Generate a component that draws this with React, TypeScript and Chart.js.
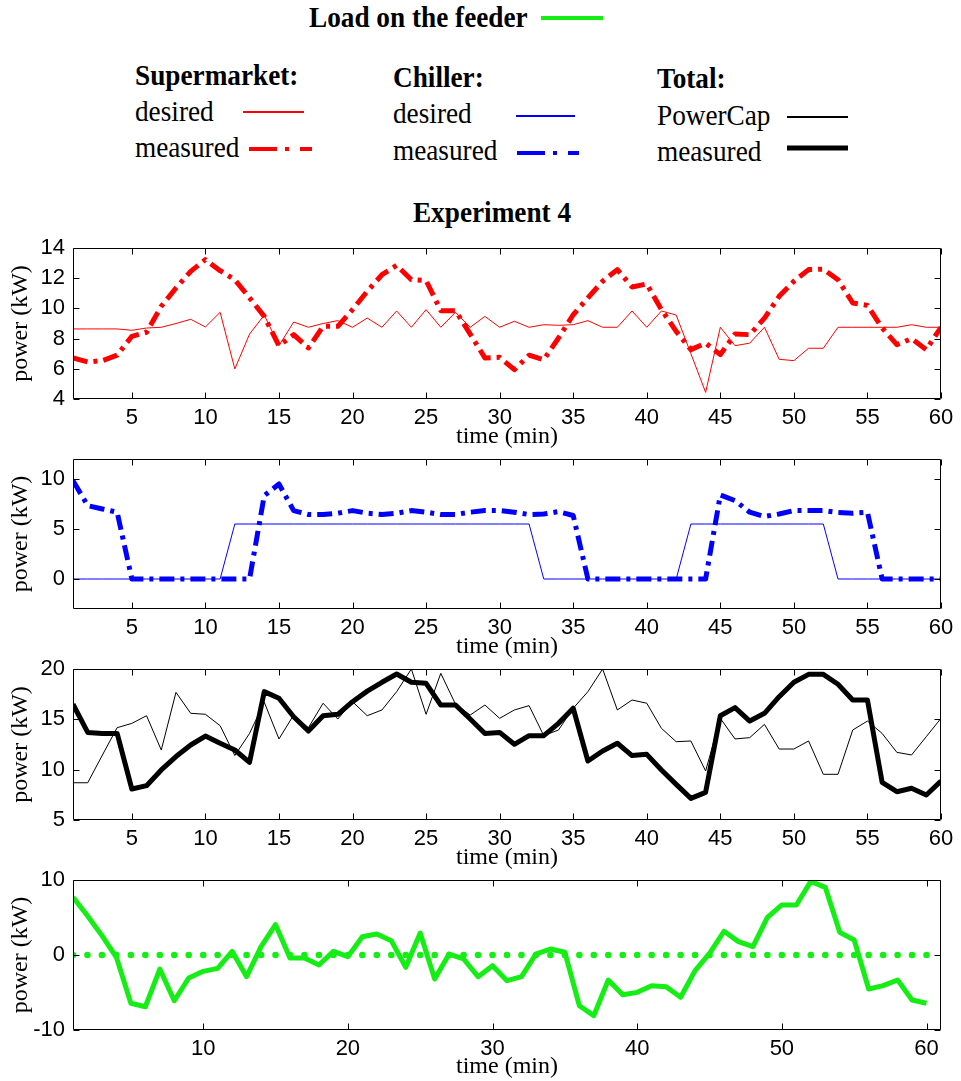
import React, { useEffect, useRef } from 'react';
import { Chart, registerables } from 'chart.js';

Chart.register(...registerables);

// ---------- data ----------
const minutes = [
  1, 2, 3, 4, 5, 6, 7, 8, 9, 10, 11, 12, 13, 14, 15, 16, 17, 18, 19, 20,
  21, 22, 23, 24, 25, 26, 27, 28, 29, 30, 31, 32, 33, 34, 35, 36, 37, 38, 39, 40,
  41, 42, 43, 44, 45, 46, 47, 48, 49, 50, 51, 52, 53, 54, 55, 56, 57, 58, 59, 60,
];

const supermarketDesired = [
  8.64, 8.64, 8.64, 8.64, 8.55, 8.7, 8.75, 9.0, 9.28, 8.77,
  9.74, 5.99, 8.3, 9.56, 7.53, 9.1, 8.75, 9.0, 9.19, 8.75,
  9.36, 8.75, 9.83, 8.75, 9.92, 8.75, 9.74, 8.75, 9.47, 8.75,
  9.15, 8.75, 8.92, 8.88, 8.92, 9.19, 8.75, 8.75, 9.83, 8.75,
  9.83, 9.56, 7.0, 4.44, 8.75, 7.53, 7.7, 8.75, 6.63, 6.54,
  7.36, 7.36, 8.75, 8.75, 8.75, 8.75, 8.75, 8.92, 8.75, 8.75,
];
const supermarketMeasured = [
  6.72, 6.45, 6.54, 6.9, 8.15, 8.42, 10.14, 11.35, 12.45, 13.23,
  12.5, 11.9, 10.7, 9.47, 7.53, 8.26, 7.38, 8.81, 8.81, 9.92,
  11.13, 12.23, 12.85, 11.9, 11.84, 9.85, 9.85, 8.3, 6.72, 6.76,
  5.94, 6.9, 6.6, 8.04, 9.58, 10.7, 11.8, 12.57, 11.42, 11.62,
  9.92, 8.48, 7.27, 7.7, 6.94, 8.3, 8.26, 9.36, 10.8, 11.8,
  12.57, 12.6, 11.9, 10.36, 10.2, 8.7, 7.6, 8.0, 7.27, 8.75,
];

const chillerDesired = [
  0, 0, 0, 0, 0, 0, 0, 0, 0, 0,
  0, 5.5, 5.5, 5.5, 5.5, 5.5, 5.5, 5.5, 5.5, 5.5,
  5.5, 5.5, 5.5, 5.5, 5.5, 5.5, 5.5, 5.5, 5.5, 5.5,
  5.5, 5.5, 0, 0, 0, 0, 0, 0, 0, 0,
  0, 0, 5.5, 5.5, 5.5, 5.5, 5.5, 5.5, 5.5, 5.5,
  5.5, 5.5, 0, 0, 0, 0, 0, 0, 0, 0,
];
const chillerMeasured = [
  9.83, 7.34, 7.0, 6.68, 0, 0, 0, 0, 0, 0,
  0, 0, 0, 8.34, 9.5, 6.84, 6.45, 6.45, 6.58, 6.84,
  6.58, 6.45, 6.58, 6.84, 6.68, 6.45, 6.45, 6.68, 6.84, 6.84,
  6.68, 6.45, 6.5, 6.74, 6.35, 0, 0, 0, 0, 0,
  0, 0, 0, 0, 8.4, 7.84, 6.68, 6.25, 6.5, 6.84,
  6.84, 6.84, 6.64, 6.58, 6.68, 0, 0, 0, 0, 0,
];

const totalPowerCap = [
  8.7, 8.7, 11.46, 14.17, 14.6, 15.36, 11.95, 17.68, 15.6, 15.5,
  14.37, 11.4, 13.6, 16.7, 13.05, 15.43, 14.17, 16.6, 15.03, 16.75,
  15.36, 15.93, 17.75, 20.0, 15.5, 19.57, 16.5, 15.43, 16.42, 15.1,
  15.93, 16.36, 13.38, 13.94, 16.1, 17.75, 20.0, 15.93, 16.92, 16.6,
  14.1, 12.78, 12.85, 9.87, 15.1, 13.05, 13.18, 14.5, 12.05, 12.05,
  12.85, 9.54, 9.54, 13.94, 14.83, 13.6, 11.72, 11.46, 13.28, 15.1,
];
const totalMeasured = [
  16.5, 13.7, 13.6, 13.6, 8.08, 8.41, 9.97, 11.3, 12.45, 13.34,
  12.62, 11.95, 10.73, 17.75, 17.09, 15.26, 13.84, 15.36, 15.5, 16.75,
  17.8, 18.68, 19.5, 18.68, 18.58, 16.42, 16.42, 15.03, 13.6, 13.7,
  12.52, 13.38, 13.38, 14.6, 16.1, 10.86, 11.85, 12.62, 11.4, 11.52,
  9.97, 8.54, 7.15, 7.75, 15.36, 16.16, 14.83, 15.6, 17.25, 18.68,
  19.47, 19.47, 18.48, 16.92, 16.92, 8.74, 7.81, 8.15, 7.48, 8.87,
];

const feederLoad = [
  7.7, 5.24, 2.58, -0.3, -6.44, -6.9, -1.87, -6.1, -3.07, -2.18,
  -1.78, 0.49, -2.89, 1.11, 4.04, -0.4, -0.4, -1.33, 0.49, -0.22,
  2.44, 2.8, 1.91, -1.64, 2.93, -3.2, 0.13, -0.53, -2.89, -1.42,
  -3.42, -2.89, 0.13, 0.8, 0.36, -6.76, -8.09, -3.33, -5.29, -4.98,
  -4.09, -4.22, -5.64, -2.09, 0.22, 3.16, 1.78, 1.11, 5.02, 6.67,
  6.67, 9.82, 9.02, 3.02, 2.0, -4.53, -4.09, -3.33, -6.0, -6.44,
];
const feederZero = [
  0, 0, 0, 0, 0, 0, 0, 0, 0, 0,
  0, 0, 0, 0, 0, 0, 0, 0, 0, 0,
  0, 0, 0, 0, 0, 0, 0, 0, 0, 0,
  0, 0, 0, 0, 0, 0, 0, 0, 0, 0,
  0, 0, 0, 0, 0, 0, 0, 0, 0, 0,
  0, 0, 0, 0, 0, 0, 0, 0, 0, 0,
];

const xTicksBy5 = [5, 10, 15, 20, 25, 30, 35, 40, 45, 50, 55, 60];
const xTicksBy10 = [10, 20, 30, 40, 50, 60];
const yTicksSupermarket = [4, 6, 8, 10, 12, 14];
const yTicksChiller = [0, 5, 10];
const yTicksTotal = [5, 10, 15, 20];
const yTicksFeeder = [-10, 0, 10];

// ---------- styling ----------
const RED = '#ff0000';
const BLUE = '#0000ff';
const BLACK = '#000000';
const GREEN = '#14ee14';
const DASH_DOT = [15, 6, 4, 6];

const W = 961;
const FRAME_LEFT = 73;
const FRAME_RIGHT = 941;
const PAD_TOP = 22;

type Series = {
  values: number[];
  color: string;
  width: number;
  dash?: number[];
  dots?: boolean;
};

type PanelCfg = {
  frameTop: number;
  frameH: number;
  axisH: number;
  titleBottomPad: number;
  yMin: number;
  yMax: number;
  yTicks: number[];
  xMax: number;
  xTicks: number[];
  series: Series[];
};

const panels: PanelCfg[] = [
  {
    frameTop: 248, frameH: 151, axisH: 59, titleBottomPad: 7,
    yMin: 4, yMax: 14, yTicks: yTicksSupermarket, xMax: 60, xTicks: xTicksBy5,
    series: [
      { values: supermarketDesired, color: RED, width: 1 },
      { values: supermarketMeasured, color: RED, width: 5, dash: DASH_DOT },
    ],
  },
  {
    frameTop: 459, frameH: 150, axisH: 59, titleBottomPad: 7,
    yMin: -3, yMax: 12, yTicks: yTicksChiller, xMax: 60, xTicks: xTicksBy5,
    series: [
      { values: chillerDesired, color: BLUE, width: 1 },
      { values: chillerMeasured, color: BLUE, width: 5, dash: DASH_DOT },
    ],
  },
  {
    frameTop: 669, frameH: 151, axisH: 59, titleBottomPad: 7,
    yMin: 5, yMax: 20, yTicks: yTicksTotal, xMax: 60, xTicks: xTicksBy5,
    series: [
      { values: totalPowerCap, color: BLACK, width: 1 },
      { values: totalMeasured, color: BLACK, width: 5 },
    ],
  },
  {
    frameTop: 880, frameH: 150, axisH: 51, titleBottomPad: 0,
    yMin: -10, yMax: 10, yTicks: yTicksFeeder, xMax: 61, xTicks: xTicksBy10,
    series: [
      { values: feederZero, color: GREEN, width: 0, dots: true },
      { values: feederLoad, color: GREEN, width: 5 },
    ],
  },
];

const framePlugin = {
  id: 'frameTicks',
  afterDraw(chart: any) {
    const { ctx, chartArea: a, scales } = chart;
    const l = Math.round(a.left) + 0.5;
    const r = Math.round(a.right) - 0.5;
    const t = Math.round(a.top) + 0.5;
    const b = Math.round(a.bottom) - 0.5;
    ctx.save();
    ctx.strokeStyle = '#000';
    ctx.lineWidth = 1;
    ctx.beginPath();
    ctx.rect(l, t, r - l, b - t);
    const TL = 6;
    scales.x.ticks.forEach((tk: any) => {
      const px = Math.round(scales.x.getPixelForValue(tk.value)) + 0.5;
      ctx.moveTo(px, t);
      ctx.lineTo(px, t + TL);
      ctx.moveTo(px, b);
      ctx.lineTo(px, b - TL);
    });
    scales.y.ticks.forEach((tk: any) => {
      const py = Math.round(scales.y.getPixelForValue(tk.value)) + 0.5;
      ctx.moveTo(l, py);
      ctx.lineTo(l + TL, py);
      ctx.moveTo(r, py);
      ctx.lineTo(r - TL, py);
    });
    ctx.stroke();
    ctx.restore();
  },
};

const SANS = '"Liberation Sans", Arial, sans-serif';
const SERIF = '"Liberation Serif", "Times New Roman", serif';

function Panel({ cfg }: { cfg: PanelCfg }) {
  const ref = useRef<HTMLCanvasElement>(null);
  const height = PAD_TOP + cfg.frameH + cfg.axisH;
  const top = cfg.frameTop - PAD_TOP;

  useEffect(() => {
    if (!ref.current) return;
    const chart = new Chart(ref.current, {
      type: 'line',
      data: {
        datasets: cfg.series.map((s) => ({
          data: minutes.map((m, i) => ({ x: m, y: s.values[i] })),
          borderColor: s.color,
          backgroundColor: s.color,
          borderWidth: s.width,
          borderDash: s.dash || [],
          borderJoinStyle: 'round' as const,
          showLine: !s.dots,
          pointRadius: s.dots ? 3.3 : 0,
          pointBorderWidth: 0,
          pointBackgroundColor: s.color,
          tension: 0,
          fill: false,
        })),
      },
      options: {
        responsive: false,
        maintainAspectRatio: false,
        animation: false,
        events: [],
        layout: { padding: { top: PAD_TOP, right: W - FRAME_RIGHT, left: 0, bottom: 0 } },
        plugins: { legend: { display: false }, tooltip: { enabled: false } },
        scales: {
          x: {
            type: 'linear',
            min: 1,
            max: cfg.xMax,
            afterBuildTicks: (s: any) => {
              s.ticks = cfg.xTicks.map((v) => ({ value: v }));
            },
            afterFit: (s: any) => {
              s.height = cfg.axisH;
            },
            grid: { display: false, drawTicks: false },
            border: { display: false },
            ticks: {
              padding: 6,
              color: '#000',
              maxRotation: 0,
              autoSkip: false,
              font: { family: SANS, size: 22 },
            },
            title: {
              display: true,
              text: 'time (min)',
              color: '#000',
              font: { family: SERIF, size: 24 },
              padding: { top: 0, bottom: cfg.titleBottomPad },
            },
          },
          y: {
            type: 'linear',
            min: cfg.yMin,
            max: cfg.yMax,
            afterBuildTicks: (s: any) => {
              s.ticks = cfg.yTicks.map((v) => ({ value: v }));
            },
            afterFit: (s: any) => {
              s.width = FRAME_LEFT;
            },
            grid: { display: false, drawTicks: false },
            border: { display: false },
            ticks: {
              padding: 8,
              color: '#000',
              font: { family: SANS, size: 22 },
            },
            title: {
              display: true,
              text: 'power (kW)',
              color: '#000',
              font: { family: SERIF, size: 24 },
              padding: { top: 6, bottom: 0 },
            },
          },
        },
      },
      plugins: [framePlugin],
    } as any);
    return () => chart.destroy();
  }, [cfg]);

  return (
    <canvas
      ref={ref}
      width={W}
      height={height}
      style={{ position: 'absolute', left: 0, top, width: W, height }}
    />
  );
}

function LegendText({ x, y, text, bold, anchor }: { x: number; y: number; text: string; bold?: boolean; anchor?: string }) {
  return (
    <text
      transform={`translate(${x},${y}) scale(0.94,1)`}
      fontFamily={SERIF}
      fontSize={29}
      fontWeight={bold ? 'bold' : 'normal'}
      textAnchor={anchor || 'start'}
      fill="#000"
    >
      {text}
    </text>
  );
}

function Legend() {
  return (
    <svg width={W} height={240} style={{ position: 'absolute', left: 0, top: 0 }}>
      <LegendText x={309} y={27} text="Load on the feeder" bold />
      <line x1={541} y1={18} x2={603} y2={18} stroke={GREEN} strokeWidth={4} />

      <LegendText x={135} y={85} text="Supermarket:" bold />
      <LegendText x={135} y={121} text="desired" />
      <line x1={243} y1={112} x2={304} y2={112} stroke={RED} strokeWidth={2} />
      <LegendText x={135} y={157} text="measured" />
      <line x1={249} y1={149} x2={312} y2={149} stroke={RED} strokeWidth={4} strokeDasharray="28 8 4 11" />

      <LegendText x={393} y={87} text="Chiller:" bold />
      <LegendText x={393} y={123} text="desired" />
      <line x1={516} y1={116} x2={575} y2={116} stroke={BLUE} strokeWidth={2} />
      <LegendText x={393} y={160} text="measured" />
      <line x1={517} y1={153} x2={579} y2={153} stroke={BLUE} strokeWidth={4} strokeDasharray="28 8 4 11" />

      <LegendText x={657} y={88} text="Total:" bold />
      <LegendText x={657} y={125} text="PowerCap" />
      <line x1={787} y1={117} x2={848} y2={117} stroke={BLACK} strokeWidth={2} />
      <LegendText x={657} y={161} text="measured" />
      <line x1={787} y1={148} x2={848} y2={148} stroke={BLACK} strokeWidth={5} />

      <LegendText x={492} y={222} text="Experiment 4" bold anchor="middle" />
    </svg>
  );
}

export default function App() {
  return (
    <div
      style={{
        position: 'absolute',
        left: 0,
        top: 0,
        width: W,
        height: 1081,
        overflow: 'hidden',
        background: '#fff',
      }}
    >
      <Legend />
      {panels.map((p, i) => (
        <Panel key={i} cfg={p} />
      ))}
    </div>
  );
}
